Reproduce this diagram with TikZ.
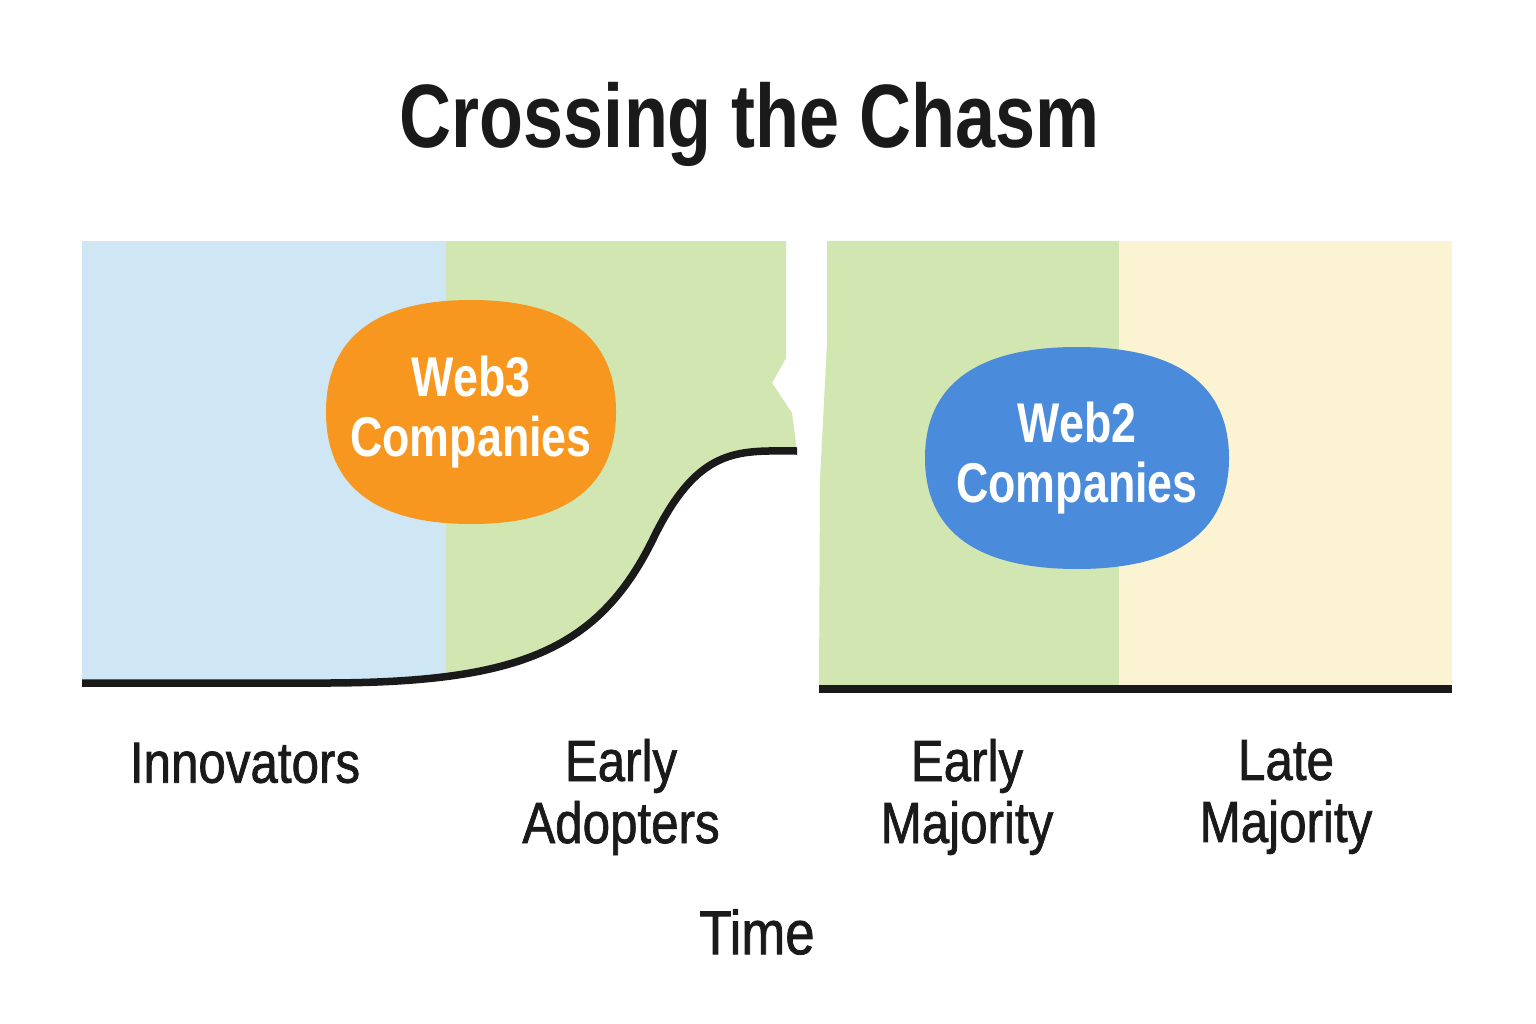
\documentclass[tikz,border=0pt]{standalone}
\usepackage{fontspec}
\setmainfont{Liberation Sans}[FakeStretch=0.85,FakeBold=1.2]
\newfontfamily\headfont{Liberation Sans}[FakeStretch=0.8]
\usetikzlibrary{positioning}
\definecolor{innovblue}{HTML}{CFE6F4}
\definecolor{earlygreen}{HTML}{D1E6B0}
\definecolor{lateyellow}{HTML}{FBF3D2}
\definecolor{webthree}{HTML}{F7971F}
\definecolor{webtwo}{HTML}{4A8BDC}
\definecolor{ink}{HTML}{1A1A1A}
\tikzset{
    adoption/.style={ink,line width=7.5pt},
    bubble/.style={text=white,align=center,
        font=\headfont\bfseries\fontsize{56}{60}\selectfont},
    segment/.style={ink,align=center,font=\fontsize{58}{62}\selectfont},
    heading/.style={ink,font=\headfont\bfseries\fontsize{90}{96}\selectfont}
}
% blob of half-width #1 and half-height #2 round the origin
\newcommand{\blob}[2]{(#1,0) .. controls (#1,0.66*#2) and (0.66*#1,#2) .. (0,#2)
  .. controls (-0.66*#1,#2) and (-#1,0.66*#2) .. (-#1,0)
  .. controls (-#1,-0.66*#2) and (-0.66*#1,-#2) .. (0,-#2)
  .. controls (0.66*#1,-#2) and (#1,-0.66*#2) .. (#1,0) -- cycle}
\begin{document}
\begin{tikzpicture}[x=1pt,y=-1pt]
\useasboundingbox (0,0) rectangle (1536,1024);
\fill[white] (0,0) rectangle (1536,1024);

% left side, cut off by the adoption curve
\begin{scope}
\clip (82,241)--(786,241)--(786,358)--(772,383)--(792,413)--(797,451)
  .. controls (740,451) and (700,445) .. (655,535)
  .. controls (600,650) and (520,682) .. (330,683)--(82,683)--cycle;
\fill[innovblue] (82,241) rectangle (446,700);
\fill[earlygreen] (446,241) rectangle (800,700);
\end{scope}
\draw[adoption] (82,683)--(330,683)
  .. controls (520,682) and (600,650) .. (655,535)
  .. controls (700,445) and (740,451) .. (797,451);

% right side
\fill[earlygreen] (827,241)--(1119,241)--(1119,688)--(819,688)--(820,480)--(827,343)--cycle;
\fill[lateyellow] (1119,241) rectangle (1452,688);
\draw[adoption] (819,689)--(1452,689);

\node[heading] (title) at (750,124) {Crossing the Chasm};

\fill[webthree,shift={(471,412)}] \blob{145}{112};
\node[bubble] (web3) at (471,412) {Web3\\Companies};
\fill[webtwo,shift={(1077,458)}] \blob{152}{111};
\node[bubble] (web2) at (1077,458) {Web2\\Companies};

\node[segment] (innov) at (245,763) {Innovators};
\node[segment] (adopt) at (621,797) {Early\\Adopters};
\node[segment] (earlymaj) at (967,797) {Early\\Majority};
\node[segment] (latemaj) at (1286,797) {Late\\Majority};
\node[segment,font=\fontsize{62}{66}\selectfont] (time) at (757,932) {Time};
\end{tikzpicture}
\end{document}
